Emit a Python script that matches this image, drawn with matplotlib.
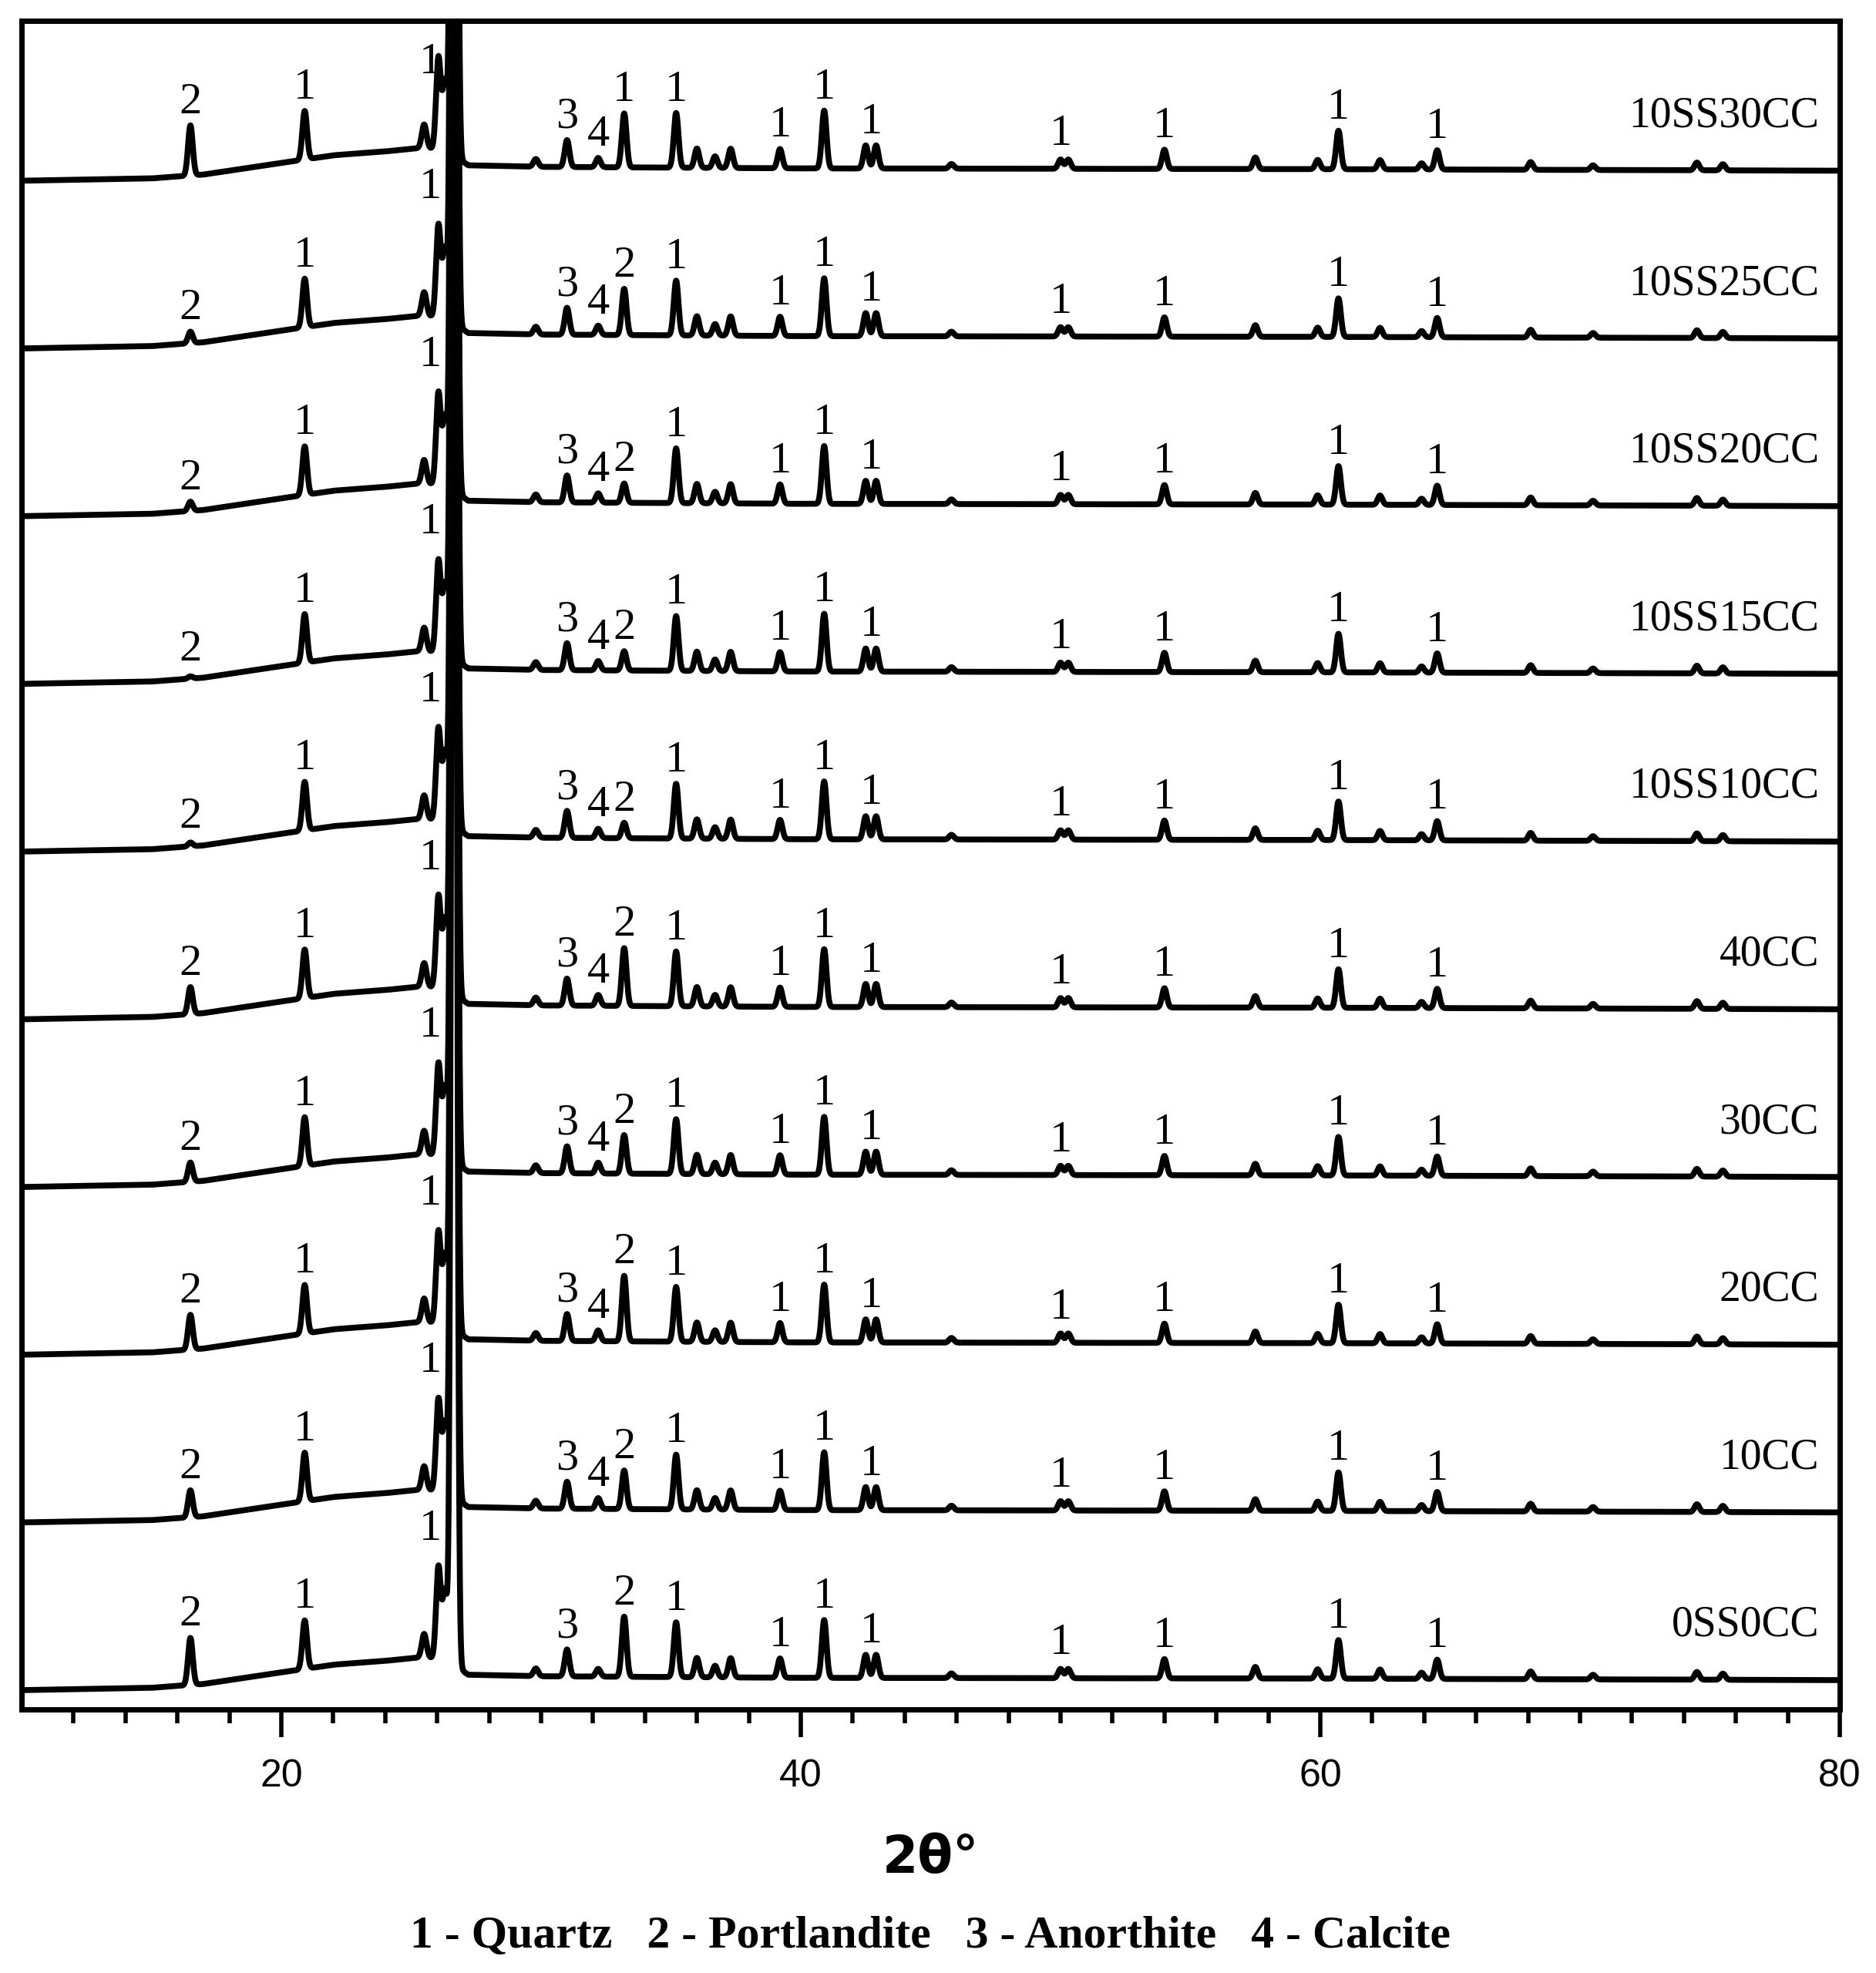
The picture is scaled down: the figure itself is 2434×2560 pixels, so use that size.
import numpy as np
import matplotlib
matplotlib.use("Agg")
import matplotlib.pyplot as plt

# sample names, bottom to top
samples = ["0SS0CC", "10CC", "20CC", "30CC", "40CC",
           "10SS10CC", "10SS15CC", "10SS20CC", "10SS25CC", "10SS30CC"]

# common peaks (2theta, height in px above baseline)
quartz_pos = [20.9, 25.5, 26.05, 26.3, 26.65, 29.8, 31.0, 35.2, 36.0, 36.7, 37.3, 39.2, 40.9,
              42.5, 42.9, 45.8, 50.0, 50.3, 54.0, 57.5, 59.9, 60.7, 62.3, 63.9, 64.5,
              68.1, 70.5, 74.5, 75.5]
quartz_h = [63, 30, 120, 90, 2600, 10, 35, 71, 25, 15, 25, 25, 75,
            30, 30, 6, 12, 12, 25, 15, 12, 50, 12, 8, 25,
            10, 6, 10, 8]

# portlandite peaks at 16.5 and 33.2, calcite at 32.2
port_h16 = [61, 35, 45, 25, 35, 5, 3, 12, 15, 65]
port_h33 = [78, 50, 85, 50, 75, 20, 25, 25, 60, 70]
calc_h = [10, 14, 14, 14, 14, 12, 12, 12, 12, 12]

# amorphous background control points
bg_x = [10, 15, 17, 20, 22, 24, 25.5, 26.4, 27.2, 30, 40, 60, 80]
bg_y = [-18, -15, -10, 5, 15, 20, 25, 20, 2, 0, -2, -3, -5]

# peak labels: (2theta, text)
label_x = [16.5, 20.9, 25.75, 31.0, 32.2, 33.2, 35.2, 39.2, 40.9, 42.7, 50.0, 54.0, 60.7, 64.5]
label_txt = {
    "0SS0CC":   ["2", "1", "1", "3", "", "2", "1", "1", "1", "1", "1", "1", "1", "1"],
    "10SS30CC": ["2", "1", "1", "3", "4", "1", "1", "1", "1", "1", "1", "1", "1", "1"],
}
default_txt = ["2", "1", "1", "3", "4", "2", "1", "1", "1", "1", "1", "1", "1", "1"]

spacing = 217.6
base0 = 43
sig = 0.09

x = np.linspace(10, 80, 14001)

def peak(x0, h):
    return h * np.exp(-0.5 * ((x - x0) / sig) ** 2)

fig = plt.figure(figsize=(24.34, 25.6), dpi=100)
ax = fig.add_axes([0.0115, 0.1336, 0.9692, 0.8559])

for i, name in enumerate(samples):
    off = base0 + spacing * i
    y = np.interp(x, bg_x, bg_y) + off
    for p, h in zip(quartz_pos, quartz_h):
        y = y + peak(p, h)
    y = y + peak(16.5, port_h16[i]) + peak(33.2, port_h33[i]) + peak(32.2, calc_h[i])
    ax.plot(x, y, color="black", lw=5.5)

    heights = {16.5: port_h16[i], 32.2: calc_h[i], 33.2: port_h33[i]}
    txts = label_txt.get(name, default_txt)
    for lx, t in zip(label_x, txts):
        if not t:
            continue
        if lx == 25.75:
            ly = min(off + 165, 2191 - 80)
        else:
            h = heights.get(lx)
            if h is None:
                h = max(quartz_h[int(np.argmin(np.abs(np.array(quartz_pos) - lx)))], 15)
            ly = off + np.interp(lx, bg_x, bg_y) + max(h, 8) + 4
        ax.text(lx, ly, t, ha="center", va="bottom", fontsize=42,
                family="Liberation Serif")
    ax.text(79.2, off + 40, name, ha="right", va="bottom", fontsize=40,
            family="Liberation Serif")

ax.set_xlim(10, 80)
ax.set_ylim(0, 2191)
ax.set_yticks([])
ax.set_xticks([20, 40, 60, 80])
ax.set_xticks(np.arange(12, 80, 2), minor=True)
ax.tick_params(axis="x", which="major", length=26, width=4, labelsize=36, pad=20)
ax.tick_params(axis="x", which="minor", length=13, width=4)
for lab in ax.get_xticklabels():
    lab.set_family("Liberation Sans")
for s in ax.spines.values():
    s.set_linewidth(5)
ax.set_xlabel("2θ°", fontsize=48, fontweight="bold", labelpad=36)

fig.text(0.496, 0.008, "1 - Quartz   2 - Portlandite   3 - Anorthite   4 - Calcite",
         ha="center", va="bottom", fontsize=43, fontweight="bold", family="Liberation Serif")

fig.savefig("out.png", dpi=100)
